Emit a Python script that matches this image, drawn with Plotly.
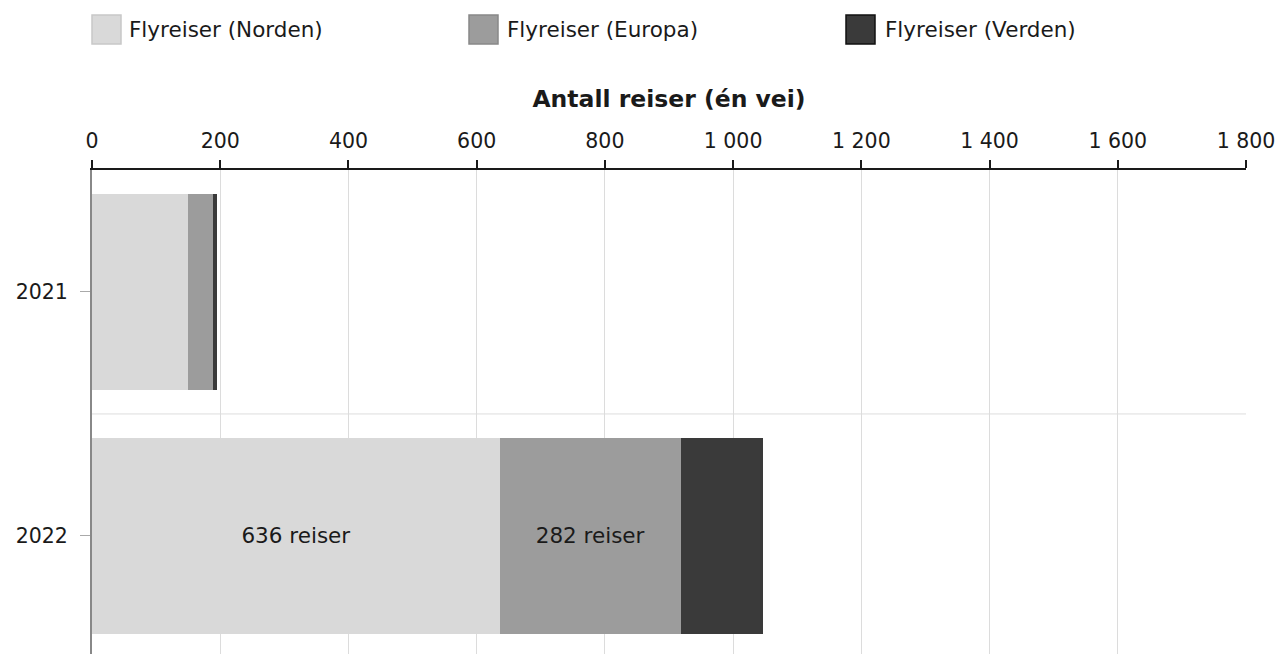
import plotly.graph_objects as go

years = ["2021", "2022"]
norden = [150, 636]
europa = [39, 282]
verden = [6, 129]
norden_labels = ["", "636 reiser"]
europa_labels = ["", "282 reiser"]
x_ticks = [0, 200, 400, 600, 800, 1000, 1200, 1400, 1600, 1800]
x_ticktext = ["0", "200", "400", "600", "800", "1 000", "1 200", "1 400", "1 600", "1 800"]

FONT = "DejaVu Sans, Verdana, sans-serif"

series = [
    ("Flyreiser (Norden)", norden, "#d9d9d9", "#c8c8c8", norden_labels),
    ("Flyreiser (Europa)", europa, "#9c9c9c", "#888888", europa_labels),
    ("Flyreiser (Verden)", verden, "#3a3a3a", "#111111", None),
]

fig = go.Figure()
for name, vals, col, line, labels in series:
    fig.add_trace(go.Bar(
        y=years, x=vals, name=name, orientation="h",
        marker=dict(color=col, line=dict(width=0)),
        text=labels, textposition="inside", insidetextanchor="middle",
        textfont=dict(size=21.5, color="#1a1a1a", family=FONT),
        hoverinfo="x+name", width=0.8,
    ))

# separator between categories
fig.add_shape(type="line", xref="paper", x0=0, x1=1, yref="y", y0=0.5, y1=0.5,
              line=dict(color="#dddddd", width=1), layer="below")

# enlarged legend swatches (drawn behind the legend's own symbols)
W = 1154.0
H = 484.0
TOP = 170
for i, (name, vals, col, line, labels) in enumerate(series):
    x0 = (i * 377) / W
    fig.add_shape(type="rect", xref="paper", yref="paper",
                  x0=x0, x1=x0 + 29 / W,
                  y0=1 + (TOP - 44) / H, y1=1 + (TOP - 15) / H,
                  fillcolor=col, line=dict(color=line, width=1.5), layer="below")

fig.update_layout(
    barmode="stack",
    width=1279, height=654,
    margin=dict(l=92, r=33, t=TOP, b=0, pad=0),
    paper_bgcolor="white", plot_bgcolor="white",
    font=dict(family=FONT, size=20, color="#1a1a1a"),
    showlegend=True,
    legend=dict(orientation="h", x=-3 / W, xanchor="left", y=1 + (TOP - 29) / H,
                yanchor="middle", yref="paper", entrywidth=333, entrywidthmode="pixels",
                font=dict(size=21.5, family=FONT, color="#1a1a1a"), traceorder="normal",
                bgcolor="rgba(0,0,0,0)"),
    bargap=0.2,
)
fig.update_xaxes(
    side="top", range=[0, 1800], tickvals=x_ticks, ticktext=x_ticktext,
    showgrid=True, gridcolor="#dcdcdc", gridwidth=1,
    showline=True, linecolor="#1a1a1a", linewidth=2,
    ticks="outside", ticklen=8, tickcolor="#1a1a1a", tickwidth=1.5,
    tickfont=dict(size=20.5), ticklabelstandoff=4, zeroline=False,
    title=dict(text="<b>Antall reiser (én vei)</b>", font=dict(size=23.5), standoff=15),
)
fig.update_yaxes(
    type="category", categoryorder="array", categoryarray=years,
    range=[1.484, -0.5], showgrid=False,
    showline=True, linecolor="#888888", linewidth=2,
    ticks="outside", ticklen=10, tickcolor="#aaaaaa", tickwidth=1,
    tickfont=dict(size=20.5), ticklabelstandoff=8, zeroline=False,
)

post = ("document.documentElement.style.overflow='hidden';"
        "document.body.style.margin='0';document.body.style.overflow='hidden';")
fig.write_html("out.html", post_script=post, config={"displayModeBar": False})
